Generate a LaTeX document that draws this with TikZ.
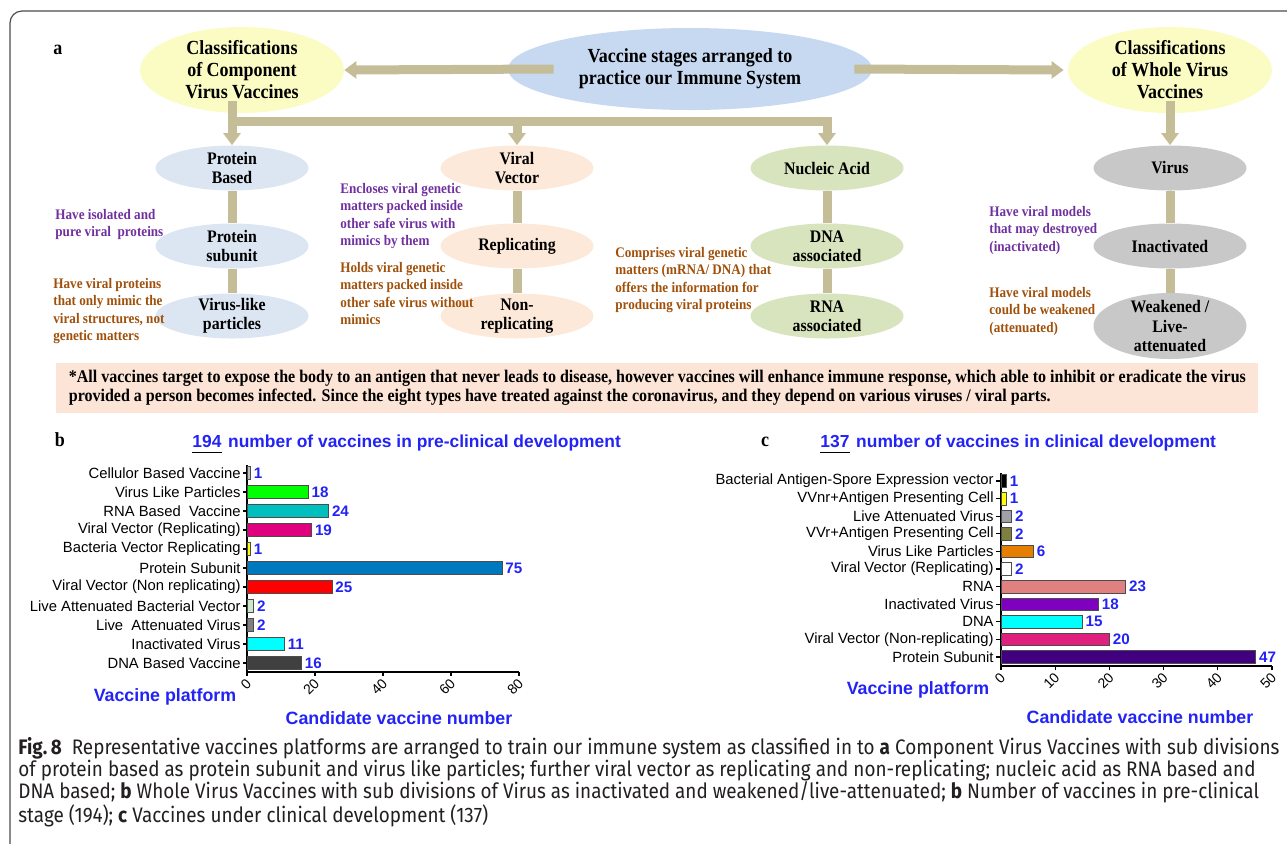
\documentclass[tikz,border=0pt]{standalone}
\usepackage{fontspec}
\setmainfont{Liberation Serif}
\newfontfamily\serifcond[FakeStretch=0.9]{Liberation Serif}
\newfontfamily\chartfont{Liberation Sans}
\newfontfamily\capfont[FakeStretch=0.9]{Fira Sans}
\usetikzlibrary{shapes.geometric}
\usetikzlibrary{positioning}
\usetikzlibrary{arrows.meta}
\usetikzlibrary{calc}
\definecolor{khaki}{HTML}{C4BD97}
\definecolor{sun}{HTML}{FBFBC4}
\definecolor{sky}{HTML}{C6D9F1}
\definecolor{mist}{HTML}{DCE6F2}
\definecolor{peach}{HTML}{FDE9D9}
\definecolor{sage}{HTML}{D7E4BD}
\definecolor{ash}{HTML}{C8C8C8}
\definecolor{note-purple}{HTML}{7030A0}
\definecolor{note-brown}{HTML}{A0500A}
\definecolor{banner-fill}{HTML}{FCE4D6}
\definecolor{chart-blue}{HTML}{2323F5}
\definecolor{cap-gray}{HTML}{231F20}
% bar fills
\definecolor{b-gray}{HTML}{BFBFBF}
\definecolor{b-green}{HTML}{00FF00}
\definecolor{b-teal}{HTML}{00BFBF}
\definecolor{b-magenta}{HTML}{E0007F}
\definecolor{b-yellow}{HTML}{FFFF00}
\definecolor{b-blue}{HTML}{0078C0}
\definecolor{b-red}{HTML}{FF0000}
\definecolor{b-pale}{HTML}{CCE8CC}
\definecolor{b-mid}{HTML}{808080}
\definecolor{b-cyan}{HTML}{00FFFF}
\definecolor{b-dark}{HTML}{404040}
\definecolor{c-gray}{HTML}{A0A0A8}
\definecolor{c-olive}{HTML}{7F7F3F}
\definecolor{c-orange}{HTML}{E67E00}
\definecolor{c-salmon}{HTML}{E08080}
\definecolor{c-purple}{HTML}{8000C0}
\definecolor{c-pink}{HTML}{E0207F}
\definecolor{c-indigo}{HTML}{400080}
\tikzset{
  frame/.style={draw=black!70, line width=0.6pt, rounded corners=6pt},
  panel-label/.style={inner sep=0pt, font=\serifcond\bfseries\fontsize{10}{11}\selectfont},
  blob/.style={ellipse, inner sep=0pt, minimum width=76.5pt, minimum height=22.5pt},
  blob text/.style={align=center, inner sep=0pt, font=\serifcond\bfseries\fontsize{8.8}{9.7}\selectfont},
  tall blob/.style={blob, minimum height=33pt},
  tall blob text/.style={blob text},
  big blob/.style={ellipse, inner sep=0pt, minimum width=102pt, minimum height=43pt},
  big blob text/.style={align=center, inner sep=0pt, font=\serifcond\bfseries\fontsize{10}{11}\selectfont},
  wide blob/.style={big blob, minimum width=182pt, minimum height=41pt},
  wide blob text/.style={big blob text},
  note/.style={anchor=north west, align=left, inner sep=0pt, font=\serifcond\bfseries\fontsize{7.3}{8.7}\selectfont},
  khaki-line/.style={draw=khaki, line width=4.5pt},
  khaki-arrow/.style={khaki-line, -{Triangle[width=8.5pt,length=6pt]}},
  banner/.style={fill=banner-fill, anchor=west, minimum width=601pt, minimum height=25pt, align=left, inner sep=0pt,
    font=\serifcond\bfseries\fontsize{8.9}{9.4}\selectfont},
  chart-title/.style={inner sep=0pt, text=chart-blue, font=\chartfont\bfseries\fontsize{8.7}{10}\selectfont},
  hbar/.style={anchor=west, inner sep=0pt, outer sep=0pt, draw=black!70, line width=0.4pt, minimum height=6.3pt},
  bar-label/.style={anchor=east, inner sep=0pt, font=\chartfont\fontsize{7.4}{8}\selectfont},
  bar-value/.style={inner sep=1pt, text=chart-blue, font=\chartfont\bfseries\fontsize{7.6}{8}\selectfont},
  tick-label/.style={anchor=east, rotate=45, inner sep=0pt, font=\chartfont\fontsize{7}{8}\selectfont},
  axis-title/.style={inner sep=0pt, text=chart-blue, font=\chartfont\bfseries\fontsize{8.9}{10}\selectfont},
  axis-line/.style={draw=black, line width=0.6pt},
  caption/.style={anchor=north west, align=left, inner sep=0pt, text=cap-gray, font=\capfont\fontsize{10.5}{11}\selectfont},
}
% ellipse with its text on top
\newcommand{\vblob}[5][blob]{%
\node[#1, fill=#4] (#2) at (#3) {};
\node[#1 text] (#2-t) at (#2.center) {#5};
}

\begin{document}
\begin{tikzpicture}[x=0.5pt, y=-0.5pt]
\useasboundingbox (0,0) rectangle (1287,843);
\draw[frame] (10,11) rectangle (1340,900);

% panel a
\node[panel-label] (la) at (58,50) {a};
\vblob[big blob]{compvac}{242,70}{sun}{Classifications\\of Component\\Virus Vaccines}
\vblob[wide blob]{stages}{690,69}{sky}{Vaccine stages arranged to\\practice our Immune System}
\vblob[big blob]{whole}{1170,70}{sun}{Classifications\\of Whole Virus\\Vaccines}
\vblob{pbased}{232,168}{mist}{Protein\\Based}
\vblob{psub}{232,246}{mist}{Protein\\subunit}
\vblob{vlp}{232,316}{mist}{Virus-like\\particles}
\vblob{vvector}{517,168}{peach}{Viral\\Vector}
\vblob{repl}{517,246}{peach}{Replicating}
\vblob{nonrepl}{517,316}{peach}{Non-\\replicating}
\vblob{nacid}{827,168}{sage}{Nucleic Acid}
\vblob{dnaa}{827,246}{sage}{DNA\\associated}
\vblob{rnaa}{827,316}{sage}{RNA\\associated}
\vblob[blob]{virus}{1170,168}{ash}{Virus}
\vblob{inact}{1170,246}{ash}{Inactivated}
\vblob[tall blob]{weak}{1170,326}{ash}{Weakened /\\Live-\\attenuated}

\draw[khaki-arrow] ([xshift=23pt]stages.west) -- (compvac.east);
\draw[khaki-arrow] ([xshift=-9pt]stages.east) -- ([xshift=-2pt]whole.west);
\coordinate (fork) at (232,121);
\draw[khaki-arrow] ($(compvac.south -| fork)+(0,-12)$) -- (pbased.north);
\draw[khaki-arrow] (fork) -| (nacid.north);
\draw[khaki-arrow] (fork -| vvector) -- (vvector.north);
\draw[khaki-arrow] ($(whole.south)+(0,-12)$) -- (virus.north);
\foreach \a/\b in {pbased/psub, psub/vlp, vvector/repl, repl/nonrepl, nacid/dnaa, dnaa/rnaa, virus/inact, inact/weak}
  \draw[khaki-line] (\a) -- (\b);

\node[note, text=note-purple] (n1) at (55,209) {Have isolated and\\pure viral\ \ proteins};
\node[note, text=note-brown] (n2) at (53,278) {Have viral proteins\\that only mimic the\\viral structures, not\\genetic matters};
\node[note, text=note-purple] (n3) at (340,183) {Encloses viral genetic\\matters packed inside\\other safe virus with\\mimics by them};
\node[note, text=note-brown] (n4) at (340,262) {Holds viral genetic\\matters packed inside\\other safe virus without\\mimics};
\node[note, text=note-brown] (n5) at (615,247) {Comprises viral genetic\\matters (mRNA/ DNA) that\\offers the information for\\producing viral proteins};
\node[note, text=note-purple] (n6) at (989,206) {Have viral models\\that may destroyed\\(inactivated)};
\node[note, text=note-brown] (n7) at (989,287) {Have viral models\\could be weakened\\(attenuated)};

\node[banner] (note) at (56,388) {*All vaccines target to expose the body to an antigen that never leads to disease, however vaccines will enhance immune response, which able to inhibit or eradicate the virus\\
provided a person becomes infected. Since the eight types have treated against the coronavirus, and they depend on various viruses / viral parts.};

% panel b
\node[panel-label] (lb) at (60,440) {b};
\node[chart-title, anchor=base west] (nb) at (192,447) {194};
\node[chart-title, base right=3pt of nb] (tb) {number of vaccines in pre-clinical development};
\draw[line width=0.8pt] ([yshift=-2.5pt]nb.south west) -- ([yshift=-2.5pt]nb.south east);
\draw[axis-line] (247,465) |- (519,672);
\foreach \lab/\val/\col [count=\i] in {Cellulor Based Vaccine/1/b-gray, Virus Like Particles/18/b-green, RNA Based\ \ Vaccine/24/b-teal, Viral Vector (Replicating)/19/b-magenta, Bacteria Vector Replicating/1/b-yellow, Protein Subunit/75/b-blue, Viral Vector (Non replicating)/25/b-red, Live Attenuated Bacterial Vector/2/b-pale, Live\ \ Attenuated Virus/2/b-mid, Inactivated Virus/11/b-cyan, DNA Based Vaccine/16/b-dark} {
  \node[hbar, fill=\col, minimum width=\val*1.7pt] (bb\i) at (247,454+19*\i) {};
  \draw[axis-line] (bb\i.west) -- ++(-4,0);
  \node[bar-label] (lbb\i) at (241,454+19*\i) {\lab};
  \node[bar-value, right=0.5pt of bb\i] (vb\i) {\val};
}
\foreach \t in {0,20,...,80} {
  \draw[axis-line] (247+3.4*\t,672) -- ++(0,4);
  \node[tick-label] (tkb\t) at (249+3.4*\t,681) {\t};
}
\node[axis-title] (xb) at (165,697) {Vaccine platform};
\node[axis-title] (yb) at (399,718) {Candidate vaccine number};

% panel c
\node[panel-label] (lc) at (765,442) {c};
\node[chart-title, anchor=base west] (nc) at (820,447) {137};
\node[chart-title, base right=3pt of nc] (tc) {number of vaccines in clinical development};
\draw[line width=0.8pt] ([yshift=-2.5pt]nc.south west) -- ([yshift=-2.5pt]nc.south east);
\draw[axis-line] (1001,473) |- (1272,666);
\foreach \lab/\val/\col [count=\i] in {Bacterial Antigen-Spore Expression vector/1/black, VVnr+Antigen Presenting Cell/1/b-yellow, Live Attenuated Virus/2/c-gray, VVr+Antigen Presenting Cell/2/c-olive, Virus Like Particles/6/c-orange, Viral Vector (Replicating)/2/white, RNA/23/c-salmon, Inactivated Virus/18/c-purple, DNA/15/b-cyan, Viral Vector (Non-replicating)/20/c-pink, Protein Subunit/47/c-indigo} {
  \node[hbar, fill=\col, minimum width=\val*2.71pt] (bc\i) at (1001,463.4+17.6*\i) {};
  \draw[axis-line] (bc\i.west) -- ++(-5,0);
  \node[bar-label] (lbc\i) at (994,463.4+17.6*\i) {\lab};
  \node[bar-value, right=0.5pt of bc\i] (vc\i) {\val};
}
\foreach \t in {0,10,...,50} {
  \draw[axis-line] (1001+5.42*\t,666) -- ++(0,4);
  \node[tick-label] (tkc\t) at (1003+5.42*\t,675) {\t};
}
\node[axis-title] (xc) at (918,690) {Vaccine platform};
\node[axis-title] (yc) at (1140,717) {Candidate vaccine number};

% caption
\node[caption] (cap) at (18,737) {\textbf{Fig.\,8}\ \ Representative vaccines platforms are arranged to train our immune system as classified in to \textbf{a} Component Virus Vaccines with sub divisions\\
of protein based as protein subunit and virus like particles; further viral vector as replicating and non-replicating; nucleic acid as RNA based and\\
DNA based; \textbf{b} Whole Virus Vaccines with sub divisions of Virus as inactivated and weakened/live-attenuated; \textbf{b} Number of vaccines in pre-clinical\\
stage (194); \textbf{c} Vaccines under clinical development (137)};
\end{tikzpicture}
\end{document}
